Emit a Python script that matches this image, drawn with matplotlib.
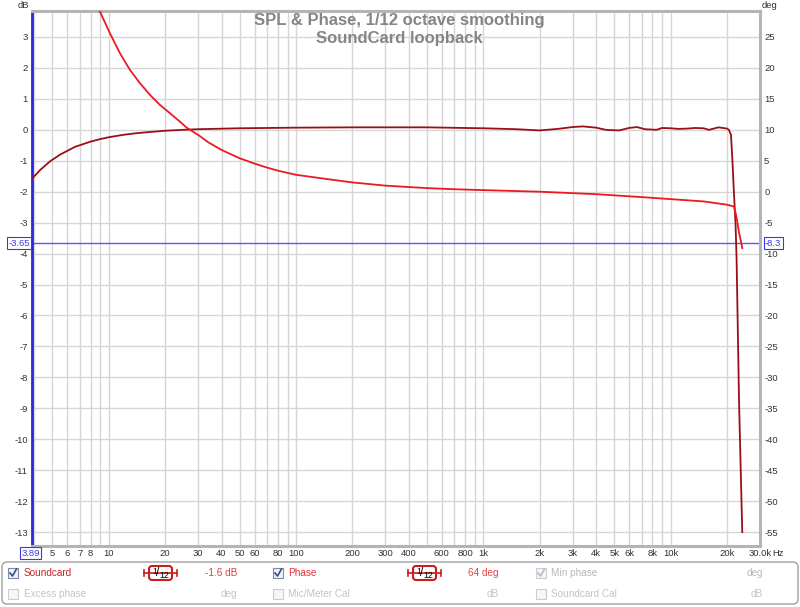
import matplotlib
matplotlib.use('Agg')
import matplotlib.pyplot as plt
from matplotlib.patches import FancyBboxPatch, Rectangle
from matplotlib.lines import Line2D
from matplotlib.transforms import Affine2D

plt.rcParams['font.family'] = ['Liberation Sans', 'DejaVu Sans']

# SPL of the soundcard loopback (Hz, dB)
spl_freq = [3.89, 4.3, 4.85, 5.5, 6.6, 8.0, 9.0, 10, 12, 14, 16.6, 20, 25, 30, 50, 100,
            200, 500, 1000, 1500, 2000, 2500, 3000, 3400, 4000, 4500, 5300, 6000, 6600,
            7300, 8400, 9000, 10000, 11000, 12300, 13500, 15000, 16000, 17000, 18000,
            19000, 20000, 20460, 21000, 21340, 21760, 22220, 22500, 23190, 24120]
spl_db = [-1.58, -1.3, -1.02, -0.8, -0.55, -0.38, -0.3, -0.24, -0.16, -0.11, -0.07, -0.03,
          0.0, 0.02, 0.05, 0.07, 0.08, 0.08, 0.05, 0.02, -0.02, 0.03, 0.09, 0.11, 0.07,
          0.0, -0.02, 0.06, 0.09, 0.02, 0.0, 0.06, 0.05, 0.03, 0.04, 0.06, 0.05, 0.0,
          0.04, 0.08, 0.06, 0.04, 0.0, -0.16, -0.92, -2.0, -3.07, -4.2, -8.8, -13.0]

# Phase (Hz, deg)
ph_freq = [8.5, 8.97, 10.14, 11.46, 12.96, 14.65, 16.57, 18.73, 21.18, 23.95, 26.0, 30.6,
           33.9, 40, 50, 60, 69, 80, 100, 150, 200, 300, 500, 700, 940, 2000, 4000, 7000,
           10000, 15000, 20000, 21760, 22220, 22700, 23190, 23700, 24120]
ph_deg = [31.0, 29.1, 25.6, 22.4, 19.7, 17.55, 15.66, 14.04, 12.7, 11.34, 10.37, 9.0,
          8.0, 6.75, 5.4, 4.55, 3.95, 3.4, 2.73, 2.0, 1.5, 0.98, 0.58, 0.4, 0.28, 0.0,
          -0.4, -0.87, -1.2, -1.57, -2.1, -2.39, -3.41, -4.87, -6.65, -7.94, -9.12]

x_grid = [4, 5, 6, 7, 8, 9, 10, 20, 30, 40, 50, 60, 70, 80, 90, 100, 200, 300, 400, 500,
          600, 700, 800, 900, 1000, 2000, 3000, 4000, 5000, 6000, 7000, 8000, 9000,
          10000, 20000, 30000]
x_labels = {5: '5', 6: '6', 7: '7', 8: '8', 10: '10', 20: '20', 30: '30', 40: '40',
            50: '50', 60: '60', 80: '80', 100: '100', 200: '200', 300: '300', 400: '400',
            600: '600', 800: '800', 1000: '1k', 2000: '2k', 3000: '3k', 4000: '4k',
            5000: '5k', 6000: '6k', 8000: '8k', 10000: '10k', 20000: '20k', 30000: '30.0k'}
db_ticks = list(range(-13, 4))
deg_ticks = list(range(-55, 30, 5))

cursor_hz = 3.89
cursor_db = -3.65

fig = plt.figure(figsize=(8, 6.07), dpi=100)
# pixel transform, origin top-left
px = Affine2D().scale(1 / 100, -1 / 100).translate(0, 6.07) + fig.dpi_scale_trans

ax = fig.add_axes([32 / 800, 61 / 607, 728 / 800, 535 / 607])
ax.set_xscale('log')
ax.set_xlim(3.89, 30000)
ax.set_ylim(-13.45, 3.84)
ax.xaxis.set_minor_locator(matplotlib.ticker.NullLocator())
ax.set_xticks(x_grid)
ax.set_xticklabels([x_labels.get(f, '') for f in x_grid])
ax.set_yticks(db_ticks)
ax.set_yticklabels([str(v) for v in db_ticks])
ax.grid(True, color='#d6d6d6', lw=1.0)
ax.set_axisbelow(True)
ax.tick_params(length=0, labelsize=6.8, colors='#333333')
ax.tick_params(axis='x', pad=2.5)
ax.tick_params(axis='y', pad=3)

for s in ['top', 'right', 'bottom']:
    ax.spines[s].set_color('#b4b4b4')
    ax.spines[s].set_linewidth(2.2)
ax.spines['left'].set_color('#2828d8')
ax.spines['left'].set_linewidth(2)

ax.axhline(cursor_db, color='#5a5af0', lw=1.0, zorder=1)

ax.plot(spl_freq, spl_db, color='#9a0f16', lw=1.3, zorder=3)

ax2 = ax.twinx()
ax2.set_ylim(5 * -13.45 + 10, 5 * 3.84 + 10)
ax2.set_yticks(deg_ticks)
ax2.set_yticklabels([str(v) for v in deg_ticks])
ax2.tick_params(length=0, labelsize=6.8, colors='#333333', pad=3)
for s in ax2.spines.values():
    s.set_visible(False)
ax2.plot(ph_freq, ph_deg, color='#ea1a22', lw=1.3, zorder=2)

# axis unit labels
fig.text(18, 6, 'dB', transform=px, fontsize=6.8, color='#333333', va='center')
fig.text(762, 6, 'deg', transform=px, fontsize=6.8, color='#333333', va='center')
fig.text(772, 553, 'Hz', transform=px, fontsize=6.8, color='#333333', va='center')

# title
fig.text(399, 20, 'SPL & Phase, 1/12 octave smoothing', transform=px, ha='center',
         va='center', fontsize=12, fontweight='bold', color='#858585')
fig.text(399, 39, 'SoundCard loopback', transform=px, ha='center', va='center',
         fontsize=12, fontweight='bold', color='#858585')

# cursor readouts
box = dict(boxstyle='square,pad=0.15', fc='white', ec='#3a3ae0', lw=0.8)
fig.text(30, 243, '-3.65', transform=px, ha='right', va='center', fontsize=6.8,
         color='#3a3ae0', bbox=box)
fig.text(765, 243, '-8.3', transform=px, ha='left', va='center', fontsize=6.8,
         color='#3a3ae0', bbox=box)
fig.text(30.5, 553, '3.89', transform=px, ha='center', va='center', fontsize=6.8,
         color='#3a3ae0', bbox=box)

# legend panel
fig.add_artist(FancyBboxPatch((2, 562), 796, 42, boxstyle='round,pad=0,rounding_size=5',
                              transform=px, fc='white', ec='#a0a0a0', lw=1))


def checkbox(x, y, checked, enabled=True):
    ec = '#7c8cab' if enabled else '#c8ccd4'
    fc = '#eef1f7' if enabled else '#f6f6f6'
    fig.add_artist(Rectangle((x, y - 5), 10, 10, transform=px, fc=fc, ec=ec, lw=0.8))
    if checked:
        cc = '#3c4c80' if enabled else '#b4bac6'
        fig.add_artist(Line2D([x + 2, x + 4.5, x + 8.5], [y, y + 3, y - 4], transform=px,
                              color=cc, lw=1.2))


def smoothing_icon(x, y):
    red = '#c81e1e'
    fig.add_artist(Line2D([x, x + 33], [y, y], transform=px, color=red, lw=1.2))
    fig.add_artist(Line2D([x, x], [y - 3, y + 3], transform=px, color=red, lw=1.2))
    fig.add_artist(Line2D([x + 33, x + 33], [y - 3, y + 3], transform=px, color=red, lw=1.2))
    fig.add_artist(FancyBboxPatch((x + 5, y - 7), 23, 14,
                                  boxstyle='round,pad=0,rounding_size=3', transform=px,
                                  fc='white', ec=red, lw=1.5))
    fig.text(x + 10.5, y - 2, '1', transform=px, ha='center', va='center', fontsize=6.3,
             color='black')
    fig.text(x + 13.5, y, '/', transform=px, ha='center', va='center', fontsize=8.5,
             color='black')
    fig.text(x + 20.5, y + 2, '12', transform=px, ha='center', va='center', fontsize=6.3,
             color='black')


row1, row2 = 573, 594
lfs = 7.2
checkbox(8, row1, True)
fig.text(24, row1, 'Soundcard', transform=px, va='center', fontsize=lfs, color='#cc2222')
smoothing_icon(144, row1)
fig.text(237, row1, '-1.6 dB', transform=px, ha='right', va='center', fontsize=lfs,
         color='#e23a3a')
checkbox(273, row1, True)
fig.text(288, row1, 'Phase', transform=px, va='center', fontsize=lfs, color='#e8323a')
smoothing_icon(408, row1)
fig.text(499, row1, '64 deg', transform=px, ha='right', va='center', fontsize=lfs,
         color='#e84444')
checkbox(536, row1, True, enabled=False)
fig.text(551, row1, 'Min phase', transform=px, va='center', fontsize=lfs, color='#b8b8b8')
fig.text(763, row1, 'deg', transform=px, ha='right', va='center', fontsize=lfs,
         color='#b8b8b8')

checkbox(8, row2, False, enabled=False)
fig.text(24, row2, 'Excess phase', transform=px, va='center', fontsize=lfs, color='#c4c4c4')
fig.text(237, row2, 'deg', transform=px, ha='right', va='center', fontsize=lfs,
         color='#c4c4c4')
checkbox(273, row2, False, enabled=False)
fig.text(288, row2, 'Mic/Meter Cal', transform=px, va='center', fontsize=lfs,
         color='#c4c4c4')
fig.text(499, row2, 'dB', transform=px, ha='right', va='center', fontsize=lfs,
         color='#c4c4c4')
checkbox(536, row2, False, enabled=False)
fig.text(551, row2, 'Soundcard Cal', transform=px, va='center', fontsize=lfs,
         color='#c4c4c4')
fig.text(763, row2, 'dB', transform=px, ha='right', va='center', fontsize=lfs,
         color='#c4c4c4')

fig.savefig('out.png', dpi=100)
